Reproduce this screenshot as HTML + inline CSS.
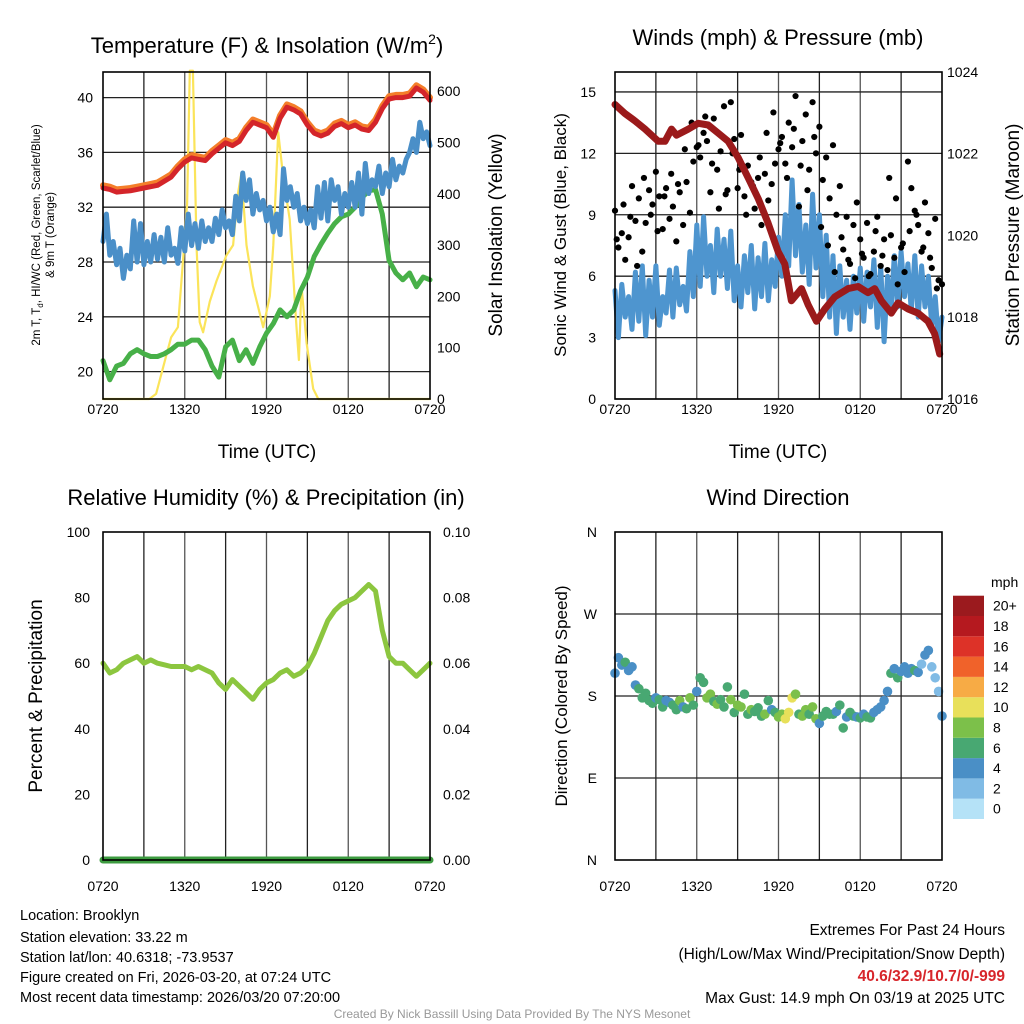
<!DOCTYPE html>
<html><head><meta charset="utf-8"><style>
html,body{margin:0;padding:0;background:#fff;}
svg{display:block;font-family:"Liberation Sans",sans-serif;}
</style></head><body>
<svg id="chart" width="1024" height="1024" viewBox="0 0 1024 1024" xmlns="http://www.w3.org/2000/svg">
<rect x="0" y="0" width="1024" height="1024" fill="#fff"/>
<g font-size="22" text-anchor="middle" fill="#000">
<text x="267" y="53">Temperature (F) &amp; Insolation (W/m<tspan font-size="14" dy="-9">2</tspan><tspan dy="9">)</tspan></text>
<text x="778" y="45">Winds (mph) &amp; Pressure (mb)</text>
<text x="266" y="505">Relative Humidity (%) &amp; Precipitation (in)</text>
<text x="778" y="505">Wind Direction</text>
</g>
<g font-size="19" text-anchor="middle">
<text x="267" y="458">Time (UTC)</text>
<text x="778" y="458">Time (UTC)</text>
<text transform="translate(502,235) rotate(-90)">Solar Insolation (Yellow)</text>
<text transform="translate(566,235) rotate(-90)" font-size="17">Sonic Wind &amp; Gust (Blue, Black)</text>
<text transform="translate(1019,235) rotate(-90)">Station Pressure (Maroon)</text>
<text transform="translate(42,696) rotate(-90)">Percent &amp; Precipitation</text>
<text transform="translate(567,696) rotate(-90)" font-size="17">Direction (Colored By Speed)</text>
</g>
<g font-size="11.5" text-anchor="middle">
<text transform="translate(40,235) rotate(-90)">2m T, T<tspan font-size="8" dy="3">d</tspan><tspan dy="-3">, HI/WC (Red, Green, Scarlet/Blue)</tspan></text>
<text transform="translate(54,235) rotate(-90)">&amp; 9m T (Orange)</text>
</g>
<g id="plots"></g>
<g font-size="14.5" fill="#000">
<text x="20" y="920">Location: Brooklyn</text>
<text x="20" y="942">Station elevation: 33.22 m</text>
<text x="20" y="962">Station lat/lon: 40.6318; -73.9537</text>
<text x="20" y="982">Figure created on Fri, 2026-03-20, at 07:24 UTC</text>
<text x="20" y="1002">Most recent data timestamp: 2026/03/20 07:20:00</text>
</g>
<g font-size="15.5" text-anchor="end">
<text x="1005" y="935">Extremes For Past 24 Hours</text>
<text x="1005" y="959">(High/Low/Max Wind/Precipitation/Snow Depth)</text>
<text x="1005" y="981" fill="#d7262b" font-weight="bold">40.6/32.9/10.7/0/-999</text>
<text x="1005" y="1003">Max Gust: 14.9 mph On 03/19 at 2025 UTC</text>
</g>
<text x="512" y="1018" font-size="12" fill="#999" text-anchor="middle">Created By Nick Bassill Using Data Provided By The NYS Mesonet</text>
</svg>
<script>
// ---- data ----
const halfHours = [0,0.5,1,1.5,2,2.5,3,3.5,4,4.5,5,5.5,6,6.5,7,7.5,8,8.5,9,9.5,10,10.5,11,11.5,12,12.5,13,13.5,14,14.5,15,15.5,16,16.5,17,17.5,18,18.5,19,19.5,20,20.5,21,21.5,22,22.5,23,23.5,24];
const temp2m = [33.4,33.3,33.1,33.15,33.2,33.3,33.4,33.5,33.6,33.9,34.2,34.8,35.3,35.6,35.5,35.4,35.9,36.3,36.7,36.5,36.8,37.6,38.2,38.0,37.8,37.1,38.5,39.3,39.1,38.8,38.0,37.4,37.2,37.4,37.9,38.1,37.8,38.0,37.7,37.6,38.2,39.2,39.9,40.0,40.0,40.1,40.7,40.4,39.8];
const temp9m = [33.6,33.5,33.3,33.35,33.4,33.5,33.6,33.7,33.8,34.1,34.4,35.0,35.5,35.8,35.7,35.6,36.1,36.5,36.9,36.7,37.0,37.8,38.4,38.2,38.0,37.3,38.7,39.5,39.3,39.0,38.2,37.6,37.4,37.6,38.1,38.3,38.0,38.2,37.9,37.8,38.4,39.4,40.1,40.2,40.2,40.3,40.9,40.6,40.0];
const windChill = [29.5,31.5,28.5,29.5,27.8,29.0,26.8,28.5,27.5, 31.0,28.0,30.8,27.8,29.5,28.0,30.0,28.2, 29.8,28.0,30.5,28.5,29.0,27.9,30.5,28.8, 31.5,29.2,30.8,29.0,31.0,29.5,30.5,29.5, 31.2,30.0,31.8,30.5,31.0,30.0,32.8,31.0, 34.5,32.5,34.0,31.5,33.0,31.8,32.5,31.0, 32.0,30.2,31.5,30.0,34.8,32.5,33.5,32.0, 33.0,31.0,32.0,30.8,31.8,30.5,33.5,31.2, 33.8,31.0,34.0,32.5,33.5,31.5,33.0,32.0, 33.8,32.0,34.5,31.5,35.2,33.0,34.0,33.5, 35.0,33.0,34.5,33.5,35.5,34.0,35.0,34.5, 35.5,36.0,37.0,36.0,38.2,37.0,37.5,36.5];
const dewpoint = [20.8,19.4,20.4,20.6,21.3,21.6,21.3,21.1,21.1,21.3,21.6,22.0,22.0,22.3,22.3,21.6,20.4,19.6,21.8,22.3,20.8,21.6,20.6,21.8,22.8,23.5,24.5,24.0,24.5,25.9,26.9,28.4,29.3,30.1,30.8,31.3,31.5,32.0,32.7,33.2,33.3,31.5,28.1,27.2,26.7,27.2,26.2,26.9,26.7];
const solarTimes = [0,3.4,3.9,4.4,5.0,5.5,5.9,6.17,6.37,6.6,6.86,7.1,7.35,7.84,8.33,9.06,9.55,9.9,10.16,10.53,11.0,11.76,12.24,12.5,12.86,13.2,13.7,14.2,14.38,14.57,14.94,15.43,15.8,24];
const solarValues = [0,0,10,60,120,140,280,380,640,640,300,150,130,190,230,280,300,400,440,300,220,140,200,300,520,440,350,140,76,220,109,20,0,0];
const presTimes = [0,0.73,1.47,2.2,3.18,3.67,4.15,4.52,5.38,6.11,6.84,7.58,8.31,9.04,9.78,10.51,11.24,11.98,12.46,12.95,13.69,14.18,14.79,15.4,16.13,17.11,17.84,18.57,19.06,19.55,20.28,20.77,21.51,22.24,22.97,23.46,23.83];
const presValues = [1023.2,1022.98,1022.8,1022.6,1022.3,1022.3,1022.6,1022.45,1022.6,1022.74,1022.7,1022.5,1022.3,1021.9,1021.4,1020.9,1020.3,1019.6,1019.3,1018.4,1018.7,1018.3,1017.9,1018.2,1018.5,1018.7,1018.75,1018.6,1018.7,1018.4,1018.1,1018.35,1018.2,1018.1,1017.9,1017.6,1017.1];
const windSpeed = [5.3,3.0,5.6,4.0,5.0,3.4,6.2,3.8,6.5, 3.1,5.8,4.0,6.5,3.6,5.0,4.2,6.3, 4.0,6.4,4.6,5.5,4.3,7.2,5.0,8.5, 5.5,8.9,6.0,7.5,5.2,8.3,6.0,7.8, 5.4,8.2,4.8,6.5,4.5,7.0,5.2,7.5, 4.4,6.9,5.0,7.6,4.8,6.8,5.5,7.9, 6.0,9.0,6.5,10.7,7.0,9.5,6.2,8.5, 5.6,10.0,6.4,9.0,5.0,8.0,4.0,7.0, 3.2,6.5,4.0,5.8,3.4,6.0,4.2,6.4, 3.8,6.2,4.5,6.8,3.5,6.5,2.8,6.0, 4.2,7.0,4.5,7.2,5.0,6.6,4.3,7.0, 4.0,6.5,4.5,6.0,3.5,5.0,2.8,4.0];
const gustValues = [9.2,7.4,8.1,6.8,7.9,10.4,8.7,9.8,7.2, 8.6,10.2,9.5,11.1,9.9,8.3,10.3,8.8, 9.4,7.7,10.1,8.5,10.6,9.1,11.6,12.3, 11.8,13.0,12.6,10.1,13.7,11.2,12.1,14.3, 10.2,14.5,12.7,10.3,12.9,9.9,11.4,10.6, 9.3,10.8,8.5,11.0,9.7,10.5,11.5,12.2, 12.8,11.5,13.5,12.3,14.8,9.4,12.6,13.9, 11.2,14.5,12.0,13.3,10.7,11.8,9.8,12.4, 9.0,10.4,7.3,8.9,6.6,8.5,9.6,7.8, 6.9,8.6,6.1,7.2,8.9,6.5,7.8,6.3, 8.0,6.9,5.6,7.4,6.2,11.6,10.3,9.2, 8.5,7.2,9.6,8.1,6.4,8.8,5.8,5.6];
const gustValues2 = [7.8,9.5,8.9,6.5,10.8,9.0,8.2,9.9, 11.0,10.5,12.2,13.5,12.4,13.8,11.5,9.3, 10.0,12.0,11.2,9.0,10.4,11.8,13.0,14.0, 12.5,10.8,13.2,11.4,10.2,12.8,8.4,7.5, 6.2,7.9,6.8,5.9,7.1,6.0,8.2,7.0, 10.8,9.8,7.6,8.2,9.0,7.4,6.9,5.4];
const relHumidity = [60,57,58,60,61,62,60,61,60,59.5,59,59,59,58,59,58,57,54,52,55,53,51,49,52,54,55,57,58,56,57,59,63,68,73,76,78,79,80,82,84,82,70,62,60,60,58,56,58,60];
const precip = [0,0,0,0,0,0,0,0,0,0,0,0,0,0,0,0,0,0,0,0,0,0,0,0,0,0,0,0,0,0,0,0,0,0,0,0,0,0,0,0,0,0,0,0,0,0,0,0,0];
const windDir = [205,222,214,217,208,212,192,188,178, 183,175,172,178,176,168,175,173, 170,165,175,168,166,178,170,185, 200,195,178,182,174,171,176,168, 190,176,162,170,168,182,160,165, 163,167,158,160,175,165,162,157, 160,155,162,178,182,160,158,165, 160,168,155,150,158,163,160,160, 163,170,145,157,162,158,157,156, 160,157,156,162,165,168,175,185, 205,210,200,207,212,205,210,208, 206,215,225,230,212,200,185,158];
const dirSpeed = [4,4,4,5,4,3,4,6,5, 6,5,6,4,6,5,3,4, 6,5,7,4,6,7,6,4, 6,6,7,8,6,7,5,6, 6,7,6,7,8,6,6,7, 6,5,6,7,6,4,6,7, 8,9,10,9,7,6,7,8, 6,7,7,4,6,6,5,6, 3,6,6,4,5,6,4,6, 4,5,6,4,4,3,4,4, 6,4,5,4,3,4,4,5, 3,2,4,3,2,2,2,4];
const tempTicks = [20,24,28,32,36,40];
const solarTicks = [0,100,200,300,400,500,600];
const windTicks = [0,3,6,9,12,15];
const presTicks = [1016,1018,1020,1022,1024];
const rhTicks = [0,20,40,60,80,100];
const precipTicks = ["0.00","0.02","0.04","0.06","0.08","0.10"];
const dirTicks = ["N","E","S","W","N"];
const timeTicks = ["0720","1320","1920","0120","0720"];
const speedLabels = ["0","2","4","6","8","10","12","14","16","18","20+"];
const speedColors = ["#b5e2f7","#80bbe5","#4a8fc6","#48a872","#7cc04a","#e8e05a","#f7ab45","#f0622a","#dd3228","#b5191f","#9b1a1e"];

// ---- scales ----
const NS = "http://www.w3.org/2000/svg";
const root = document.getElementById('plots');
const L1 = 103, R1 = 430, L2 = 615, R2 = 942;
const T1 = 72, B1 = 399, T3 = 532, B3 = 860;
const xL = t => L1 + t / 24 * (R1 - L1);
const xR = t => L2 + t / 24 * (R2 - L2);
const yTemp = v => B1 - (v - 18) * 13.7;
const ySolar = v => B1 - v * 0.513;
const yWind = v => B1 - v * 20.47;
const yPres = p => B1 - (p - 1016) * 40.9;
const yRH = v => B3 - v * 3.28;
const yPrecip = v => B3 - v * 3280;
const yDir = d => B3 - d * 0.9111;
const quarterStep = i => i * 0.25;
const quarterTimes = windSpeed.map((v, i) => quarterStep(i));

function mk(tag, attrs, name, parent) {
  const e = document.createElementNS(NS, tag);
  for (const k in attrs) e.setAttribute(k, attrs[k]);
  
  
  (parent || root).appendChild(e);
  return e;
}
function txt(x, y, s, anchor, name, size) {
  const t = mk('text', {x: x, y: y, 'text-anchor': anchor, 'font-size': size || 14}, name);
  t.textContent = s;
  return t;
}
function line(xs, ys, color, w, name) {
  let d = '';
  for (let i = 0; i < xs.length; i++) d += (i ? 'L' : 'M') + xs[i].toFixed(1) + ',' + ys[i].toFixed(1);
  return mk('path', {d: d, fill: 'none', stroke: color, 'stroke-width': w, 'stroke-linejoin': 'round', 'stroke-linecap': 'round'}, name);
}
function frame(L, R, T, B, prefix, hLines) {
  for (let k = 1; k < 8; k++) {
    const x = L + k * (R - L) / 8;
    mk('line', {x1: x, x2: x, y1: T, y2: B, stroke: k % 2 ? '#222' : '#555', 'stroke-width': 1.3}, prefix + '-vgrid');
  }
  hLines.forEach(y => mk('line', {x1: L, x2: R, y1: y, y2: y, stroke: '#222', 'stroke-width': 1.3}, prefix + '-hgrid'));
}
function border(L, R, T, B, prefix) {
  mk('rect', {x: L, y: T, width: R - L, height: B - T, fill: 'none', stroke: '#000', 'stroke-width': 1.6}, prefix + '-plot-border');
}
function timeLabels(L, R, y, prefix) {
  timeTicks.forEach((s, i) => txt(L + i * (R - L) / 4, y, s, 'middle', prefix + '-x-tick-label'));
}

// ---- panel 1: temperature & insolation ----
frame(L1, R1, T1, B1, 'temperature', tempTicks.map(yTemp));
line(solarTimes.map(xL), solarValues.map(ySolar), '#fbe45a', 2.2, 'solar-insolation-line');
line(halfHours.map(xL), dewpoint.map(yTemp), '#47b048', 5, 'dewpoint-line');
line(quarterTimes.map(xL), windChill.map(yTemp), '#4a8fc8', 5, 'wind-chill-line');
line(halfHours.map(xL), temp9m.map(yTemp), '#f47e2a', 6, 'temp-9m-line');
line(halfHours.map(xL), temp2m.map(yTemp), '#d4252a', 5, 'temp-2m-line');
border(L1, R1, T1, B1, 'temperature');
tempTicks.forEach(v => txt(93, yTemp(v) + 5, String(v), 'end', 'temperature-y-tick-label'));
solarTicks.forEach(v => txt(437, ySolar(v) + 5, String(v), 'start', 'solar-y-tick-label'));
timeLabels(L1, R1, 414, 'temperature');

// ---- panel 2: winds & pressure ----
frame(L2, R2, T1, B1, 'winds', windTicks.map(yWind));
line(quarterTimes.map(xR), windSpeed.map(yWind), '#4e95cf', 5, 'wind-speed-line');
gustValues.forEach((v, i) => mk('circle', {cx: xR(quarterStep(i)), cy: yWind(v), r: 3.1, fill: '#000'}, 'gust-point'));
gustValues2.forEach((v, i) => mk('circle', {cx: xR(0.125 + i * 0.5), cy: yWind(v), r: 3.1, fill: '#000'}, 'gust-point'));
line(presTimes.map(xR), presValues.map(yPres), '#9b1a1b', 7, 'pressure-line');
border(L2, R2, T1, B1, 'winds');
windTicks.forEach(v => txt(596, yWind(v) + 5, String(v), 'end', 'wind-y-tick-label'));
presTicks.forEach(v => txt(947, yPres(v) + 5, String(v), 'start', 'pressure-y-tick-label'));
timeLabels(L2, R2, 414, 'winds');

// ---- panel 3: humidity & precipitation ----
frame(L1, R1, T3, B3, 'humidity', []);
line(halfHours.map(xL), relHumidity.map(yRH), '#8cc63f', 5, 'relative-humidity-line');
line(halfHours.map(xL), precip.map(yPrecip), '#3d9b40', 7, 'precipitation-line');
border(L1, R1, T3, B3, 'humidity');
rhTicks.forEach(v => txt(90, yRH(v) + 5, String(v), 'end', 'humidity-y-tick-label'));
precipTicks.forEach((s, i) => txt(443, yRH(i * 20) + 5, s, 'start', 'precip-y-tick-label'));
timeLabels(L1, R1, 891, 'humidity');

// ---- panel 4: wind direction ----
frame(L2, R2, T3, B3, 'direction', [yDir(90), yDir(180), yDir(270)]);
windDir.forEach((d, i) => {
  const idx = Math.min(10, Math.round(dirSpeed[i] / 2));
  mk('circle', {cx: xR(quarterStep(i)), cy: yDir(d), r: 4.8, fill: speedColors[idx]}, 'direction-point');
});
border(L2, R2, T3, B3, 'direction');
dirTicks.forEach((s, i) => txt(597, yDir(i * 90) + 5, s, 'end', 'direction-y-tick-label'));
timeLabels(L2, R2, 891, 'direction');

// colorbar
txt(991, 587, 'mph', 'start', 'colorbar-title');
speedColors.forEach((c, i) => {
  const y = 819 - (i + 1) * 20.3;
  mk('rect', {x: 953, y: y, width: 31, height: 20.3, fill: c}, 'colorbar-box');
  txt(993, y + 15, speedLabels[i], 'start', 'colorbar-label');
});
</script>
</body></html>
